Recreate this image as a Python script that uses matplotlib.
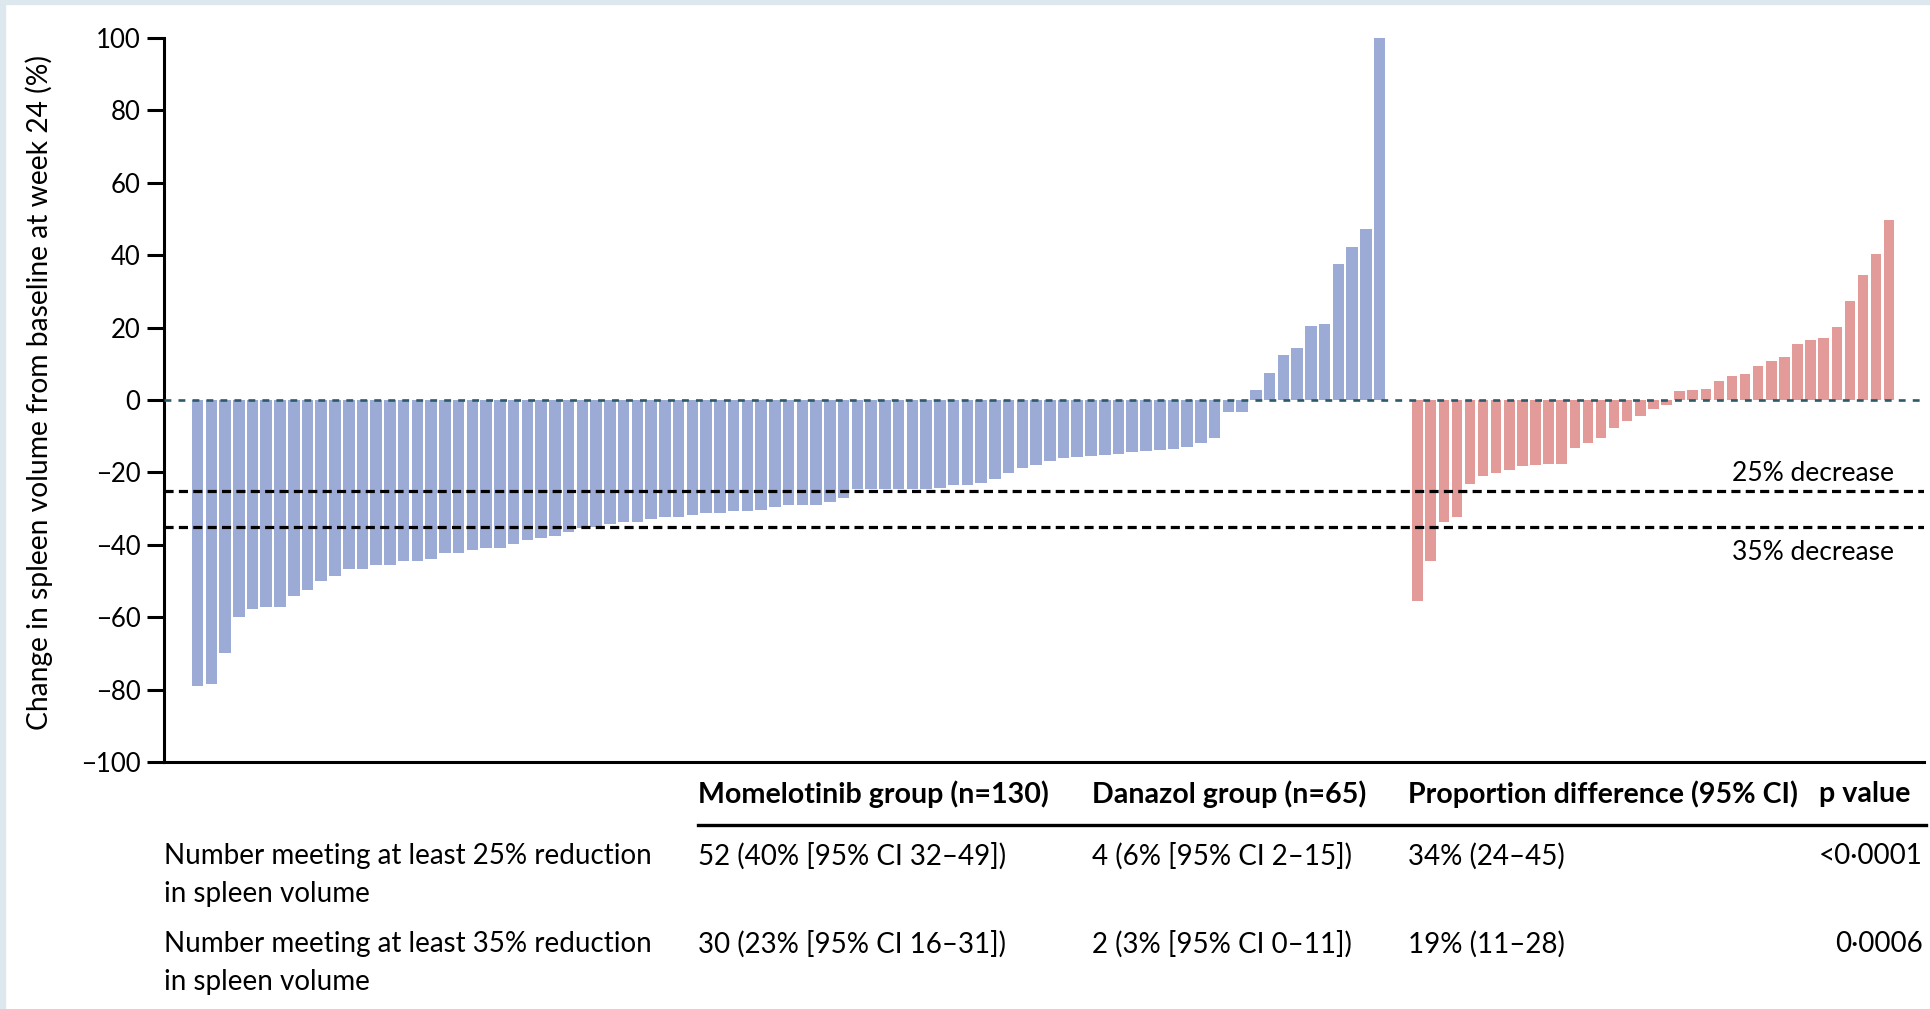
import matplotlib
matplotlib.use("Agg")
import matplotlib.pyplot as plt
import numpy as np
from matplotlib.lines import Line2D
from matplotlib.patches import Rectangle

plt.rcParams['font.family'] = ['Lato', 'DejaVu Sans']

# Change in spleen volume at week 24 (%), one bar per patient, sorted
momelotinib = [-79.1, -78.5, -69.8, -59.9, -57.6, -57.3, -57.3, -54.1, -52.5, -49.9,
               -48.6, -46.6, -46.6, -45.6, -45.6, -44.4, -44.4, -44.0, -42.3, -42.3,
               -41.4, -40.8, -40.8, -39.8, -38.8, -38.1, -37.5, -36.6, -35.3, -35.0,
               -34.3, -33.6, -33.6, -33.0, -32.3, -32.3, -31.7, -31.1, -31.1, -30.8,
               -30.8, -30.4, -29.5, -28.9, -28.9, -28.9, -28.1, -27.2, -24.7, -24.7,
               -24.7, -24.6, -24.6, -24.6, -24.3, -23.6, -23.4, -23.0, -21.7, -20.1,
               -18.8, -17.9, -16.8, -16.0, -15.8, -15.5, -15.2, -14.8, -14.3, -14.0,
               -13.9, -13.5, -12.9, -11.8, -10.5, -3.4, -3.3, 2.9, 7.5, 12.4,
               14.5, 20.5, 21.1, 37.6, 42.2, 47.1, 100.0]
danazol = [-55.4, -44.6, -33.7, -32.2, -23.2, -21.0, -20.3, -19.4, -18.2, -18.0,
           -17.7, -17.6, -13.2, -11.8, -10.5, -7.6, -5.9, -4.4, -2.6, -1.4,
           2.6, 2.7, 3.0, 5.2, 6.5, 7.2, 9.5, 10.7, 12.0, 15.5,
           16.5, 17.2, 20.2, 27.3, 34.5, 40.2, 49.8]

thresholds = [-25, -35]
threshold_labels = ["25% decrease", "35% decrease"]
yticks = list(range(-100, 101, 20))

# summary table under the plot
col_headers = ["Momelotinib group (n=130)", "Danazol group (n=65)",
               "Proportion difference (95% CI)", "p value"]
row_labels = [["Number meeting at least 25% reduction", "in spleen volume"],
              ["Number meeting at least 35% reduction", "in spleen volume"]]
row_momelotinib = ["52 (40% [95% CI 32\u201349])", "30 (23% [95% CI 16\u201331])"]
row_danazol = ["4 (6% [95% CI 2\u201315])", "2 (3% [95% CI 0\u201311])"]
row_difference = ["34% (24\u201345)", "19% (11\u201328)"]
row_pvalue = ["<0\u00b70001", "0\u00b70006"]

W, H = 1931, 1009
BLUE = "#9babd5"
RED = "#e29b99"
ZERO = "#2d5a68"
FS = 20
FS_HEAD = 20.6


def fx(px):
    return px / W


def fy(py):
    return 1 - py / H


fig = plt.figure(figsize=(W / 100, H / 100), dpi=100)
fig.patch.set_facecolor("white")

# thin tinted frame along top and left edges
fig.patches.append(Rectangle((0, fy(4)), 1, 4 / H, transform=fig.transFigure,
                             color="#dce8ee", zorder=0))
fig.patches.append(Rectangle((0, 0), 5 / W, 1, transform=fig.transFigure,
                             color="#dce8ee", zorder=0))

ax = fig.add_axes([fx(164), fy(762), fx(1924) - fx(164), fy(38) - fy(762)])

x_blue = np.arange(len(momelotinib))
red_pitch = 0.953
x_red = 88.76 + np.arange(len(danazol)) * red_pitch

ax.bar(x_blue, momelotinib, width=0.84, color=BLUE, zorder=2)
ax.bar(x_red, danazol, width=0.8 * red_pitch, color=RED, zorder=2)

ax.axhline(0, color=ZERO, lw=1.9, ls=(0, (2.6, 2.7)), zorder=3)
for t in thresholds:
    ax.axhline(t, color="black", lw=2.3, ls=(0, (2.85, 1.65)), zorder=3)

x_txt = x_red[-1] + 0.4 * red_pitch
ax.text(x_txt, -20.3, threshold_labels[0], ha="right", va="center", fontsize=19)
ax.text(x_txt, -42.0, threshold_labels[1], ha="right", va="center", fontsize=19)

ax.set_xlim(-2.44, 125.6)
ax.set_ylim(-100, 100)
ax.set_yticks(yticks)
ax.set_yticklabels([str(v).replace("-", "\u2212") for v in yticks])
ax.set_xticks([])
ax.tick_params(axis="y", length=12, width=2.2, labelsize=18.5, pad=5)
for side in ["top", "right"]:
    ax.spines[side].set_visible(False)
for side in ["left", "bottom"]:
    ax.spines[side].set_linewidth(2.2)

ax.set_ylabel("Change in spleen volume from baseline at week 24 (%)", fontsize=20.3)
ax.yaxis.set_label_coords(-0.063, 0.51)

# table
col_x = [698, 1092, 1408]
for hx, text in zip(col_x, col_headers[:3]):
    fig.text(fx(hx), fy(794), text, ha="left", va="center", fontsize=FS_HEAD,
             fontweight="bold")
fig.text(fx(1910), fy(794), col_headers[3], ha="right", va="center", fontsize=FS_HEAD,
         fontweight="bold")
fig.add_artist(Line2D([fx(698), fx(1926)], [fy(825), fy(825)], lw=2.4, color="black"))

row_y = [856, 944]
for i, y in enumerate(row_y):
    fig.text(fx(164), fy(y), row_labels[i][0], ha="left", va="center", fontsize=FS)
    fig.text(fx(164), fy(y + 38), row_labels[i][1], ha="left", va="center", fontsize=FS)
    fig.text(fx(col_x[0]), fy(y), row_momelotinib[i], ha="left", va="center", fontsize=FS)
    fig.text(fx(col_x[1]), fy(y), row_danazol[i], ha="left", va="center", fontsize=FS)
    fig.text(fx(col_x[2]), fy(y), row_difference[i], ha="left", va="center", fontsize=FS)
    fig.text(fx(1923), fy(y), row_pvalue[i], ha="right", va="center", fontsize=FS)

fig.savefig("out.png", dpi=100)
